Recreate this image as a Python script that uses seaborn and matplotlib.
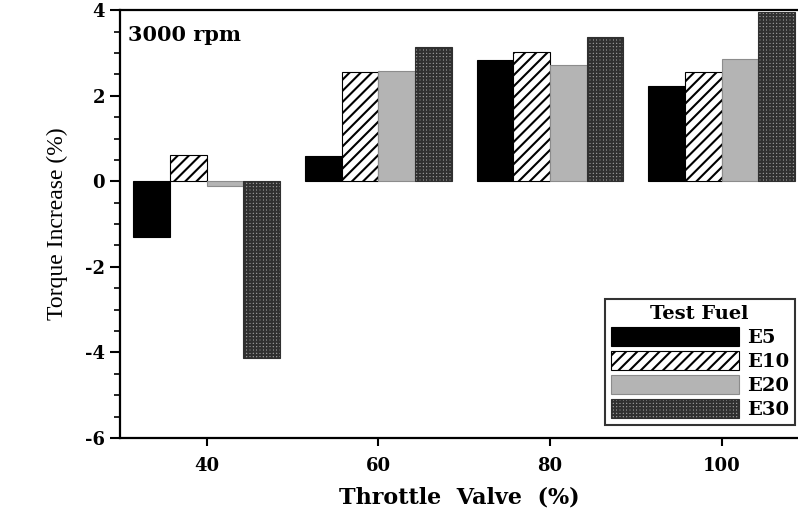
import pandas as pd
import matplotlib.pyplot as plt
import seaborn as sns
from matplotlib.patches import Patch
from matplotlib.ticker import MultipleLocator

# data
throttle = ["40", "60", "80", "100"]
fuels = ["E5", "E10", "E20", "E30"]
e5 = [-1.3, 0.6, 2.83, 2.22]
e10 = [0.62, 2.55, 3.03, 2.55]
e20 = [-0.1, 2.57, 2.72, 2.85]
e30 = [-4.12, 3.15, 3.37, 3.95]

rows = []
for fuel, vals in zip(fuels, [e5, e10, e20, e30]):
    for t, v in zip(throttle, vals):
        rows.append({"throttle": t, "fuel": fuel, "torque": v})
df = pd.DataFrame(rows)

sns.set_theme(style="ticks")
plt.rcParams['font.family'] = ['DejaVu Serif']
plt.rcParams['axes.unicode_minus'] = False
plt.rcParams['hatch.linewidth'] = 1.5
for key in ['text.color', 'axes.labelcolor', 'xtick.color', 'ytick.color']:
    plt.rcParams[key] = 'black'

fig = plt.figure(figsize=(7.98, 5.11), dpi=100)
ax = fig.add_axes([0.150, 0.143, 0.85, 0.837])

sns.barplot(data=df, x="throttle", y="torque", hue="fuel", order=throttle,
            hue_order=fuels, width=0.855, ax=ax, legend=False,
            errorbar=None, palette=["black"] * 4, saturation=1)

styles = {
    "E5": dict(facecolor="black", edgecolor="black", hatch=None),
    "E10": dict(facecolor="white", edgecolor="black", hatch="///"),
    "E20": dict(facecolor="#b4b4b4", edgecolor="#8c8c8c", hatch=None),
    "E30": dict(facecolor="#a0a0a0", edgecolor="#303030", hatch="+++++"),
}
for fuel, cont in zip(fuels, ax.containers):
    st = styles[fuel]
    for bar in cont:
        bar.set_facecolor(st["facecolor"])
        bar.set_edgecolor(st["edgecolor"])
        bar.set_linewidth(0.8)
        if st["hatch"]:
            bar.set_hatch(st["hatch"])

ax.set_ylim(-6, 4)
ax.set_xlim(-0.506, 3.445)
ax.yaxis.set_major_locator(MultipleLocator(2))
ax.yaxis.set_minor_locator(MultipleLocator(0.5))
ax.tick_params(axis="y", which="major", length=7, width=1.5, direction="out")
ax.tick_params(axis="y", which="minor", length=4, width=1.2, direction="out")
ax.tick_params(axis="x", length=6, width=1.5, direction="out", pad=8)
for lab in ax.get_xticklabels() + ax.get_yticklabels():
    lab.set_fontsize(13)
    lab.set_fontweight("bold")

for side in ["left", "bottom", "top"]:
    ax.spines[side].set_linewidth(1.6)
    ax.spines[side].set_color("black")
ax.spines["right"].set_visible(False)
ax.spines["top"].set_visible(True)

ax.set_xlabel("Throttle  Valve  (%)", fontsize=16, fontweight="bold", labelpad=8)
ax.set_ylabel("Torque Increase (%)", fontsize=17, labelpad=12,
              family=["Liberation Serif"])

ax.text(0.012, 0.965, "3000 rpm", transform=ax.transAxes, fontsize=15,
        fontweight="bold", ha="left", va="top")

handles = [Patch(facecolor=styles[f]["facecolor"], edgecolor=styles[f]["edgecolor"],
                 hatch=styles[f]["hatch"], linewidth=0.8, label=f) for f in fuels]
leg = ax.legend(handles=handles, title="Test Fuel", loc="lower right",
                bbox_to_anchor=(0.995, 0.03), borderaxespad=0, frameon=True,
                fancybox=False, handlelength=6.6, handleheight=1.15,
                handletextpad=0.4, labelspacing=0.2, borderpad=0.3,
                prop={"size": 14, "weight": "bold"},
                title_fontproperties={"size": 14, "weight": "bold"})
leg.get_frame().set_edgecolor("black")
leg.get_frame().set_linewidth(1.5)

fig.savefig("out.png", dpi=100)
